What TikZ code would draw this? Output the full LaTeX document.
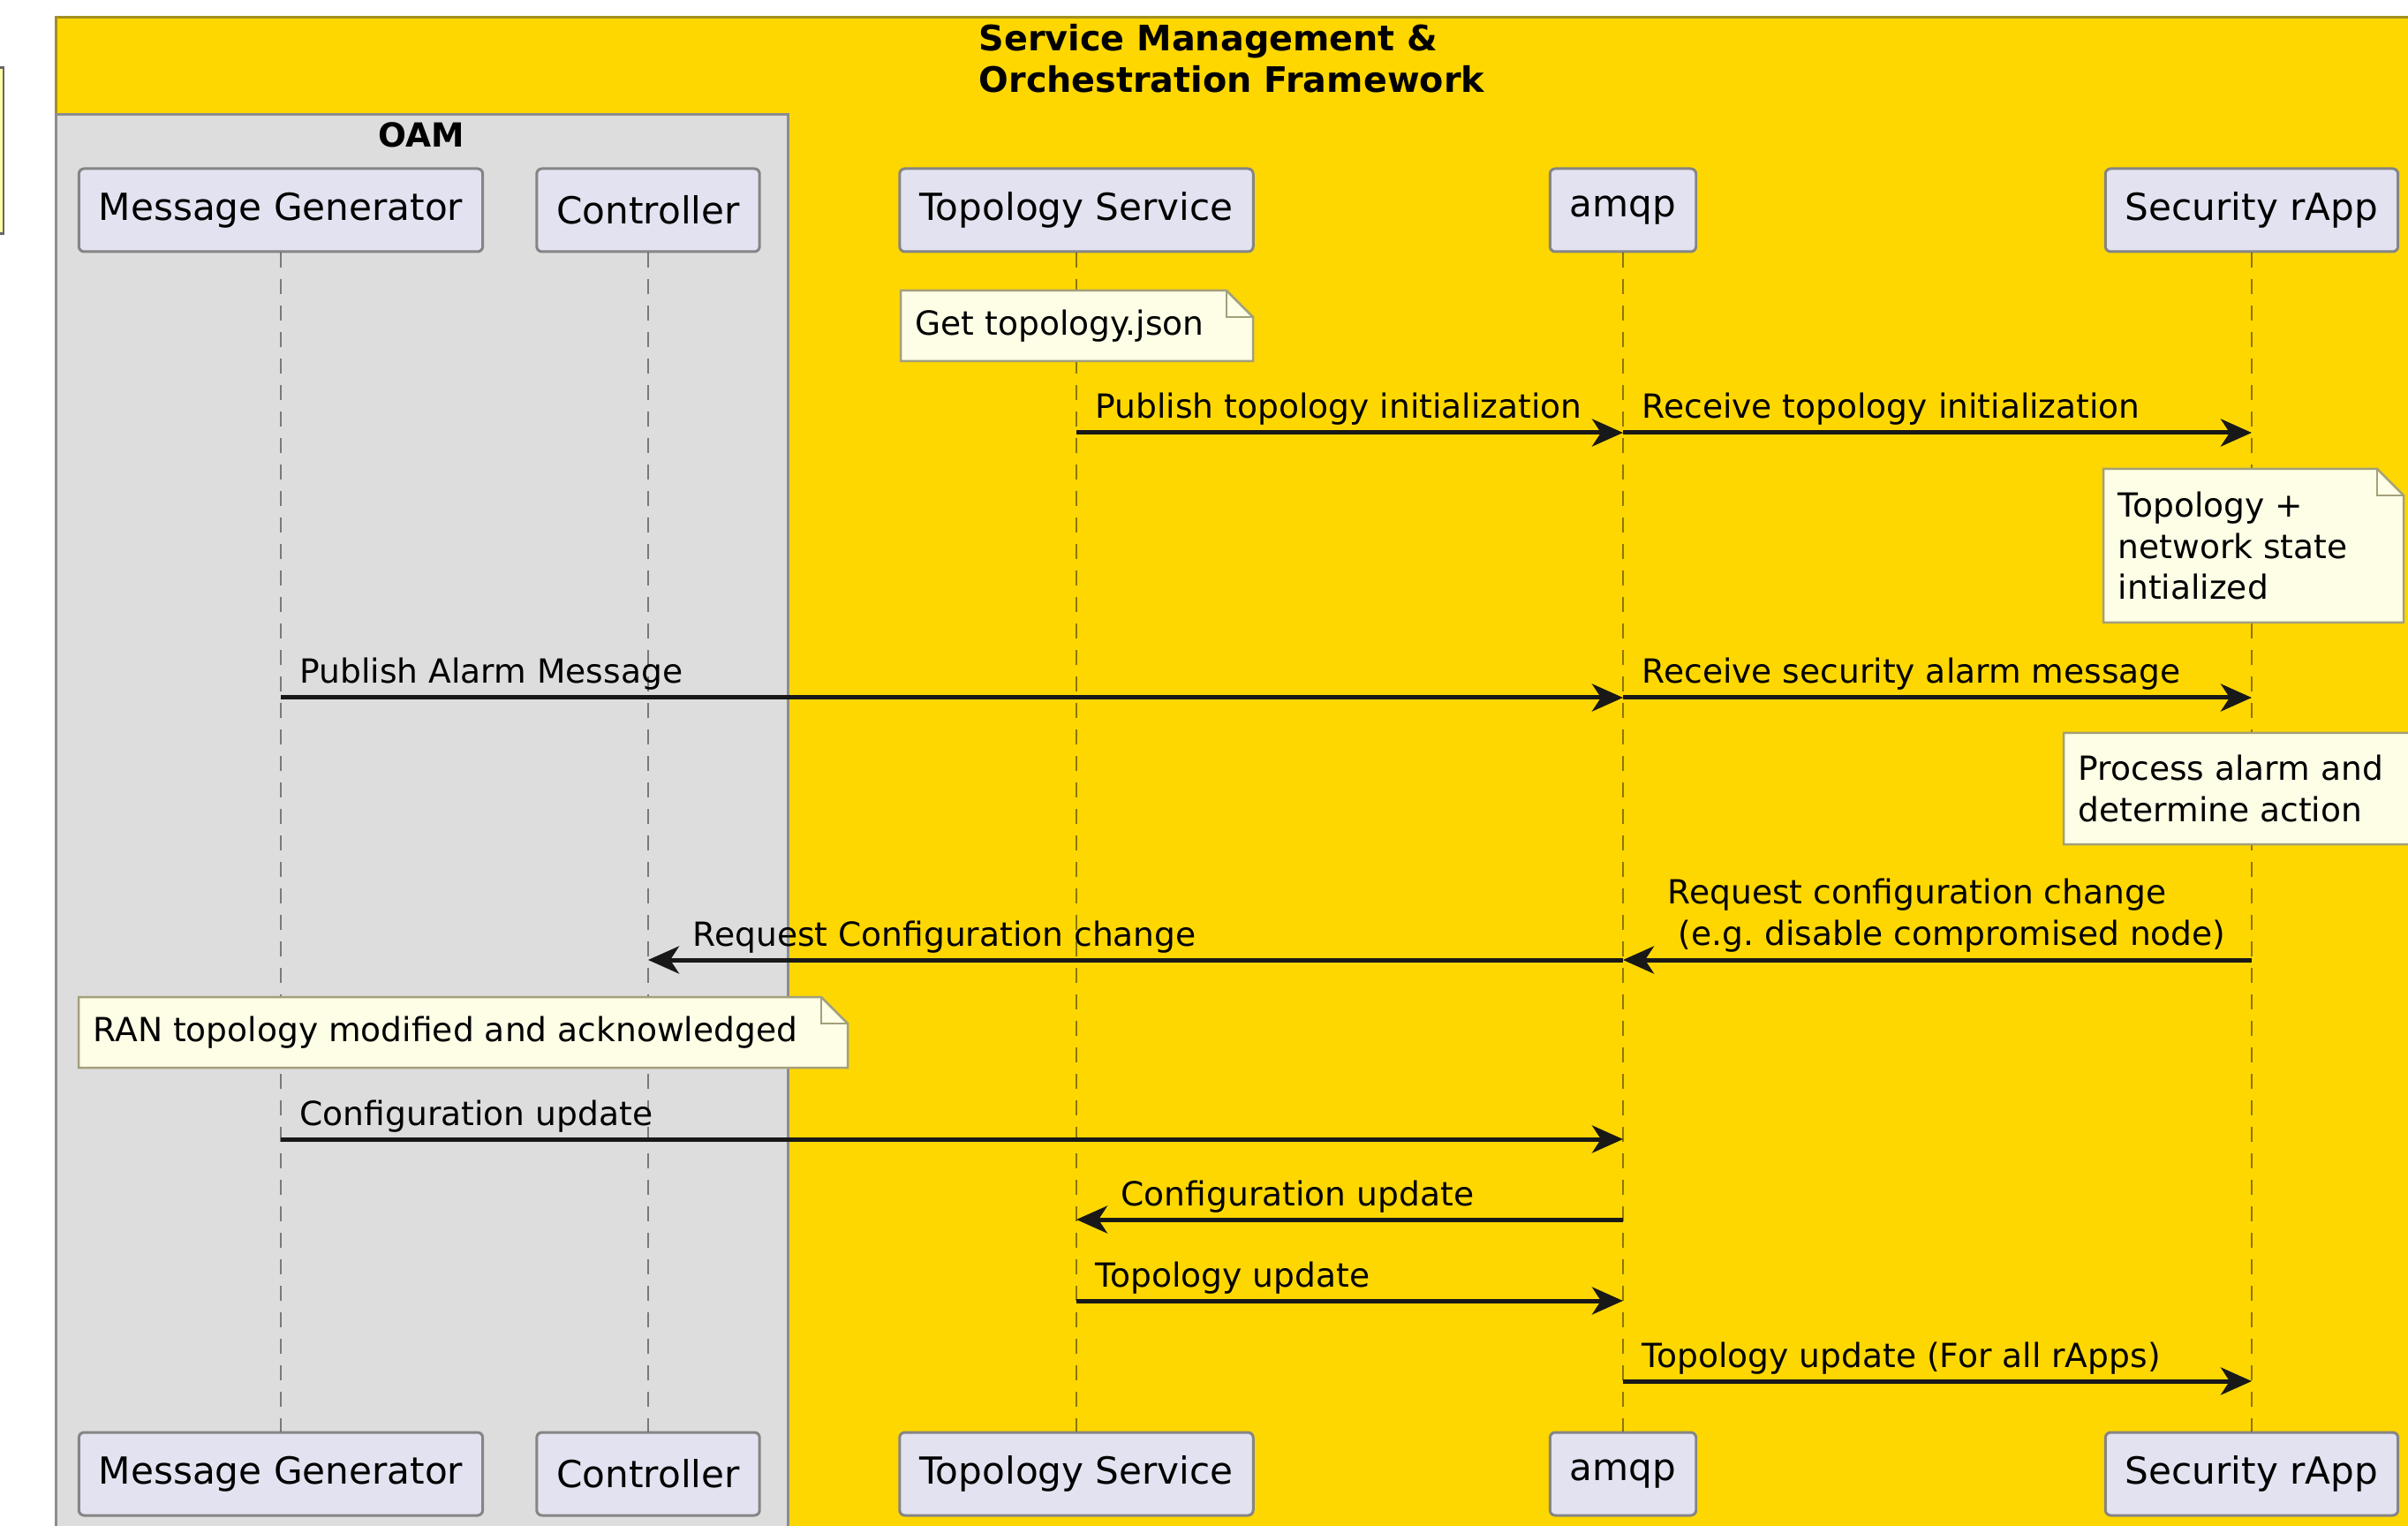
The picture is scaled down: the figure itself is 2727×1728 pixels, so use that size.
\documentclass[tikz,border=0pt]{standalone}
\usepackage{fontspec}
\setmainfont{DejaVu Sans}
\usetikzlibrary{arrows.meta,calc}

\definecolor{smoyellow}{HTML}{FFD700}
\definecolor{smoline}{HTML}{A38F1E}
\definecolor{oamgray}{HTML}{DDDDDD}
\definecolor{oamline}{HTML}{8C8C8C}
\definecolor{partfill}{HTML}{E2E2F0}
\definecolor{partline}{HTML}{858585}
\definecolor{notefill}{HTML}{FEFEE6}
\definecolor{noteline}{HTML}{A3A07A}
\definecolor{msgline}{HTML}{181818}
\definecolor{legendfill}{HTML}{FFFFA5}

\tikzset{
  participant/.style={draw=partline, fill=partfill, line width=0.3mm, rounded corners=0.6mm,
    minimum height=9.4mm, inner xsep=2.25mm, font=\fontsize{12}{14}\selectfont},
  lifeline/.style={draw=black, draw opacity=0.45, line width=0.2mm, dash pattern=on 1.7mm off 1.3mm},
  msg/.style={draw=msgline, line width=0.5mm, -{Stealth[length=3.5mm,width=3.1mm,inset=1mm]}},
  msglabel/.style={inner sep=0pt, anchor=base west, align=left, font=\fontsize{10.7}{13.4}\selectfont},
  notebox/.style={draw=noteline, fill=notefill, line width=0.25mm},
  notetext/.style={inner sep=0pt, anchor=west, align=left, font=\fontsize{10.7}{13.2}\selectfont},
  boxtitle/.style={inner sep=0pt, font=\bfseries\fontsize{10.7}{13.4}\selectfont}
}

% head and foot of a participant, joined by its lifeline
\newcommand{\drawparticipant}[3]{
  \node[participant] (#1) at (#2,238) {#3};
  \node[participant] (#1-foot) at (#2,1669) {#3};
  \draw[lifeline] (#1) -- (#1-foot);
}
% message to the right, label just after the sender
\newcommand{\msgright}[5][]{
  \draw[msg] (#2 |- 0,#4) -- (#3 |- 0,#4);
  \node[msglabel,#1] (#2-#3-#4) at ($(#2 |- 0,#4)+(21,-16)$) {#5};
}
% message to the left, label just after the arrow head
\newcommand{\msgleft}[5][]{
  \draw[msg] (#2 |- 0,#4) -- (#3 |- 0,#4);
  \node[msglabel,#1] (#2-#3-#4) at ($(#3 |- 0,#4)+(50,-16)$) {#5};
}
% note with a folded corner, top left at (#2,#3), #4 wide and #5 high
\newcommand{\drawnote}[6]{
  \draw[notebox] (#2,#3) -- (#2+#4-30,#3) -- (#2+#4,#3+30) -- (#2+#4,#3+#5) -- (#2,#3+#5) -- cycle;
  \draw[notebox, fill=none] (#2+#4-30,#3) |- (#2+#4,#3+30);
  \node[notetext] (#1) at (#2+16,#3+#5/2) {#6};
}

\begin{document}
\begin{tikzpicture}[x=0.1mm, y=-0.1mm]
  \useasboundingbox (0,0) rectangle (2727,1728);
  \clip (0,0) rectangle (2727,1728);
  \fill[white] (0,0) rectangle (2727,1728);

  % boxes
  \draw[fill=smoyellow, draw=smoline, line width=0.3mm] (63,20) rectangle (2900,1900);
  \draw[fill=oamgray, draw=oamline, line width=0.3mm] (63,130) rectangle (892,1900);
  \draw[fill=legendfill, draw=black!60, line width=0.3mm] (-300,77) rectangle (4,265);
  \node[boxtitle, anchor=north west, align=left, font=\bfseries\fontsize{11.3}{13.4}\selectfont]
    (smo) at (1108,27) {Service Management \&\\Orchestration Framework};
  \node[boxtitle] (oam) at (477,153) {OAM};

  \foreach \id/\px/\txt in {mg/318/Message Generator, ctrl/734/Controller,
      topo/1219/Topology Service, amqp/1838/amqp, rapp/2550/Security rApp}
    \drawparticipant{\id}{\px}{\txt};

  \drawnote{topojson}{1020}{329}{399}{80}{Get topology.json}
  \msgright{topo}{amqp}{490}{Publish topology initialization}
  \msgright{amqp}{rapp}{490}{Receive topology initialization}
  \drawnote{topoinit}{2382}{531}{340}{174}{Topology +\\network state\\intialized}
  \msgright{mg}{amqp}{790}{Publish Alarm Message}
  \msgright{amqp}{rapp}{790}{Receive security alarm message}
  \drawnote{alarmproc}{2337}{830}{430}{126}{Process alarm and\\determine action}
  \msgleft[anchor=south west, yshift=-0.8mm]{rapp}{amqp}{1087}
    {Request configuration change\\\ (e.g.\ disable compromised node)}
  \msgleft{amqp}{ctrl}{1087}{Request Configuration change}
  \drawnote{ranack}{89}{1129}{871}{80}{RAN topology modified and acknowledged}
  \msgright{mg}{amqp}{1290}{Configuration update}
  \msgleft{amqp}{topo}{1381}{Configuration update}
  \msgright{topo}{amqp}{1473}{Topology update}
  \msgright{amqp}{rapp}{1564}{Topology update (For all rApps)}
\end{tikzpicture}
\end{document}
